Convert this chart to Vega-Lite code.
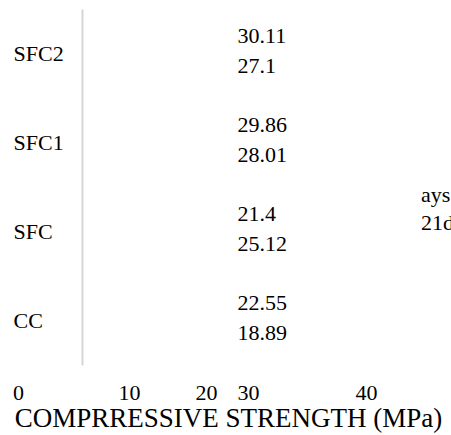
{
  "$schema": "https://vega.github.io/schema/vega-lite/v6.json",
  "width": 292,
  "height": 356,
  "autosize": {"type": "none"},
  "padding": {"left": 82, "top": 9, "right": 77, "bottom": 70},
  "background": "white",
  "config": {
    "view": {"stroke": null},
    "font": "Liberation Serif"
  },
  "data": {
    "values": [
      {"mix": "SFC2", "age": "ays", "strength": 30.11},
      {"mix": "SFC2", "age": "21d", "strength": 27.1},
      {"mix": "SFC1", "age": "ays", "strength": 29.86},
      {"mix": "SFC1", "age": "21d", "strength": 28.01},
      {"mix": "SFC", "age": "ays", "strength": 21.4},
      {"mix": "SFC", "age": "21d", "strength": 25.12},
      {"mix": "CC", "age": "ays", "strength": 22.55},
      {"mix": "CC", "age": "21d", "strength": 18.89}
    ]
  },
  "mark": {"type": "text", "align": "left", "baseline": "middle", "font": "Liberation Serif", "fontSize": 22, "color": "#000000"},
  "encoding": {
    "y": {
      "field": "mix",
      "type": "nominal",
      "sort": ["SFC2", "SFC1", "SFC", "CC"],
      "scale": {"paddingInner": 0, "paddingOuter": 0},
      "axis": {
        "title": null,
        "ticks": false,
        "tickSize": 0,
        "labelAlign": "left",
        "labelBaseline": "middle",
        "labelPadding": 69,
        "labelFont": "Liberation Serif",
        "labelFontSize": 22,
        "labelColor": "#000000",
        "domain": true,
        "domainColor": "#d6d6d6",
        "domainWidth": 2,
        "grid": false
      }
    },
    "yOffset": {
      "field": "age",
      "type": "nominal",
      "sort": ["ays", "21d"],
      "scale": {"padding": 1.118, "align": 0.455}
    },
    "x": {
      "datum": 27.5,
      "type": "quantitative",
      "scale": {"domain": [0, 10, 20, 30, 40], "range": [-64, 47, 124, 166, 284], "nice": false, "zero": false},
      "axis": {
        "title": "COMPRRESSIVE STRENGTH (MPa)",
        "values": [0, 10, 20, 30, 40],
        "domain": false,
        "ticks": false,
        "tickSize": 0,
        "grid": false,
        "labelFont": "Liberation Serif",
        "labelFontSize": 22,
        "labelColor": "#000000",
        "labelPadding": 17,
        "labelFlush": false,
        "labelOverlap": false,
        "titleFont": "Liberation Serif",
        "titleFontSize": 27,
        "titleFontWeight": "normal",
        "titleColor": "#000000",
        "titleX": 146,
        "titleAlign": "center",
        "titlePadding": 2
      }
    },
    "text": {"field": "strength", "type": "quantitative"},
    "color": {
      "field": "age",
      "type": "nominal",
      "sort": ["ays", "21d"],
      "scale": {"range": ["#000000", "#000000"]},
      "legend": {
        "title": null,
        "orient": "none",
        "legendX": 317,
        "legendY": 175,
        "symbolSize": 0,
        "symbolOpacity": 0,
        "symbolStrokeWidth": 0,
        "labelOffset": 0,
        "padding": 0,
        "rowPadding": 6,
        "labelFont": "Liberation Serif",
        "labelFontSize": 22,
        "labelColor": "#000000"
      }
    }
  }
}
